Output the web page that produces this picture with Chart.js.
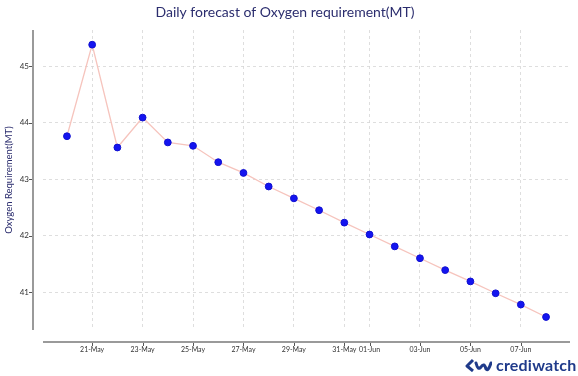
<!DOCTYPE html>
<html>
<head>
<meta charset="utf-8">
<script src="https://cdn.jsdelivr.net/npm/chart.js@4/dist/chart.umd.min.js"></script>
<style>
  html, body { margin: 0; padding: 0; background: #fff; }
  #wrap { position: relative; width: 578px; height: 376px; }
  #logo {
    position: absolute; left: 464px; top: 357px;
    display: flex; align-items: center; gap: 4px;
    font-family: 'Lato', sans-serif; font-weight: 700; font-size: 16px;
    color: #1f3a8a; letter-spacing: 0.2px; line-height: 16px;
  }
</style>
</head>
<body>
<div id="wrap">
  <canvas id="chart" width="578" height="376"></canvas>
  <div id="logo">
    <svg width="28" height="14" viewBox="0 0 28 14">
      <path d="M9 2 L3 8 L9 13" fill="none" stroke="#1f3a8a" stroke-width="3" stroke-linejoin="round"/>
      <path d="M12 5 Q14 13 17 9 Q20 4 22 11 Q24 14 27 5" fill="none" stroke="#1f3a8a" stroke-width="3" stroke-linecap="round"/>
    </svg>
    <span>crediwatch</span>
  </div>
</div>
<script>
/* ---------- Data ---------- */
const dates = ['20-May', '21-May', '22-May', '23-May', '24-May', '25-May', '26-May',
  '27-May', '28-May', '29-May', '30-May', '31-May', '01-Jun', '02-Jun', '03-Jun',
  '04-Jun', '05-Jun', '06-Jun', '07-Jun', '08-Jun'];
const oxygen = [43.76, 45.38, 43.56, 44.09, 43.65, 43.59, 43.30, 43.11, 42.87, 42.66,
  42.45, 42.23, 42.02, 41.81, 41.60, 41.39, 41.19, 40.98, 40.78, 40.56];
const xTickLabels = ['21-May', '23-May', '25-May', '27-May', '29-May', '31-May',
  '01-Jun', '03-Jun', '05-Jun', '07-Jun'];
const yTicks = [41, 42, 43, 44, 45];

const NAVY = '#2b2d6e';
const SPINE = '#9a9a9a';

/* ---------- Offset spines (seaborn despine look) ---------- */
const spines = {
  id: 'spines',
  afterDraw(chart) {
    const { ctx, chartArea: a, scales } = chart;
    ctx.save();
    ctx.strokeStyle = SPINE;
    ctx.lineWidth = 2;
    const sx = a.left - 10, sy = a.bottom + 12;
    ctx.beginPath();
    ctx.moveTo(sx, a.top); ctx.lineTo(sx, a.bottom);
    ctx.moveTo(a.left, sy); ctx.lineTo(a.right, sy);
    ctx.stroke();
    ctx.lineWidth = 1;
    ctx.strokeStyle = '#555';
    ctx.beginPath();
    scales.y.ticks.forEach(t => {
      const p = Math.round(scales.y.getPixelForValue(t.value)) + 0.5;
      ctx.moveTo(sx - 4, p); ctx.lineTo(sx - 1, p);
    });
    scales.x.ticks.forEach(t => {
      const p = Math.round(scales.x.getPixelForValue(t.value)) + 0.5;
      ctx.moveTo(p, sy + 1); ctx.lineTo(p, sy + 4);
    });
    ctx.stroke();
    ctx.restore();
  }
};

const gridStyle = {
  color: '#d6d6d6',
  lineWidth: 0.8,
  drawTicks: false
};

new Chart(document.getElementById('chart'), {
  type: 'line',
  data: {
    datasets: [{
      data: oxygen.map((v, i) => ({ x: i, y: v })),
      borderColor: '#f6c4bd',
      borderWidth: 1.3,
      pointBackgroundColor: '#1414f0',
      pointBorderColor: '#1010d0',
      pointBorderWidth: 1,
      pointRadius: 3.4,
      tension: 0
    }]
  },
  options: {
    responsive: false,
    animation: false,
    layout: { padding: { left: 0, right: 8, top: 0, bottom: 0 } },
    plugins: {
      legend: { display: false },
      tooltip: { enabled: false },
      title: {
        display: true,
        text: 'Daily forecast of Oxygen requirement(MT)',
        color: NAVY,
        font: { family: 'Lato', size: 14, weight: 'normal' },
        padding: { top: 4.5, bottom: 8.7 }
      }
    },
    scales: {
      x: {
        type: 'linear',
        min: -0.95,
        max: 19.95,
        afterBuildTicks: s => {
          s.ticks = xTickLabels.map(l => ({ value: dates.indexOf(l) }));
        },
        afterFit: s => { s.height = 46; },
        ticks: {
          autoSkip: false,
          maxRotation: 0,
          padding: 16,
          color: '#333',
          font: { family: 'Lato', size: 7 },
          callback: v => dates[v]
        },
        grid: gridStyle,
        border: { display: false, dash: [3, 3] }
      },
      y: {
        min: 40.33,
        max: 45.64,
        afterBuildTicks: s => {
          s.ticks = yTicks.map(v => ({ value: v }));
        },
        afterFit: s => { s.width = 43; },
        ticks: {
          padding: 14,
          color: '#333',
          font: { family: 'Lato', size: 8 }
        },
        grid: gridStyle,
        border: { display: false, dash: [3, 3] },
        title: {
          display: true,
          text: 'Oxygen Requirement(MT)',
          color: NAVY,
          font: { family: 'Lato', size: 9.5 },
          padding: { top: 3, bottom: 0 }
        }
      }
    }
  },
  plugins: [spines]
});
</script>
</body>
</html>
